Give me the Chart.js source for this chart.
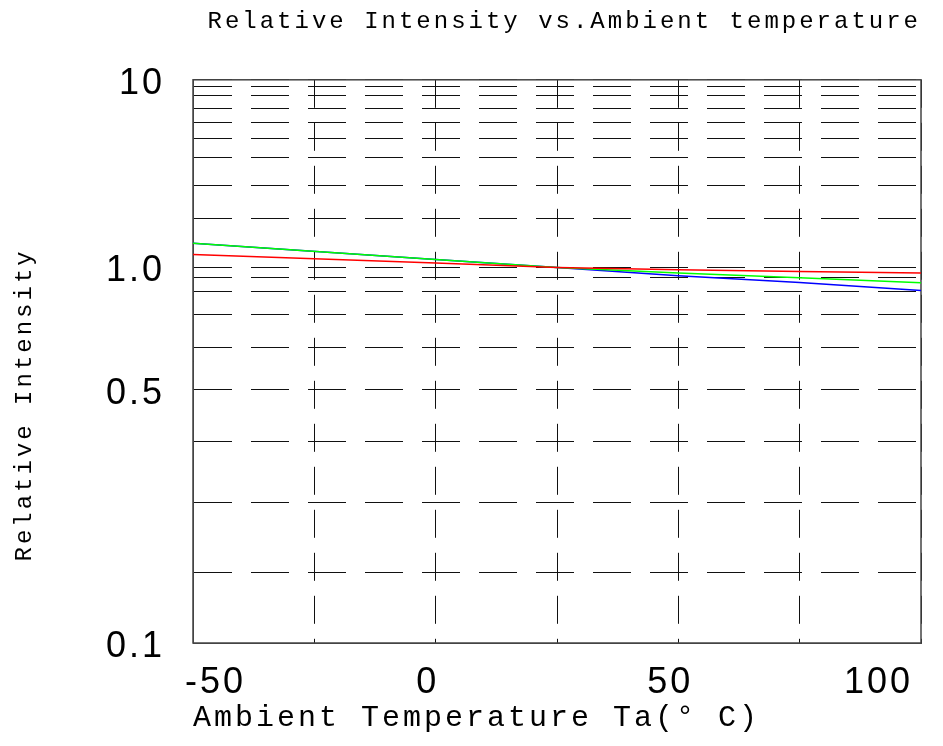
<!DOCTYPE html>
<html>
<head>
<meta charset="utf-8">
<title>Relative Intensity vs.Ambient temperature</title>
<script src="https://cdn.jsdelivr.net/npm/chart.js@4.4.1/dist/chart.umd.min.js"></script>
<style>
  html, body { margin: 0; padding: 0; background: #fff; }
  #wrap { width: 943px; height: 746px; }
</style>
</head>
<body>
<div id="wrap"><canvas id="chartIntensity"></canvas></div>
<script>
const temperatures = [-50, 0, 25, 50, 75, 100]
const redData = [1.26, 1.09, 1.0, 0.976, 0.958, 0.942]
const greenData = [1.49, 1.16, 1.0, 0.942, 0.895, 0.859]
const blueData = [1.49, 1.16, 1.0, 0.914, 0.862, 0.804]

const xTickLabels = [-50, 0, 50, 100]
const yGridValues = [0.1, 0.2, 0.3, 0.4, 0.5, 0.6, 0.7, 0.8, 0.9, 1, 2, 3, 4, 5, 6, 7, 8, 9, 10]
const yLabelValues = [0.1, 0.5, 1, 10]
const yLabelTexts = ['0.1', '0.5', '1.0', '10']

// the original axis is not a true log scale: where each grid line sits (0 = bottom, 1 = top)
const gridSteps = [0, 0.1243, 0.2503, 0.3579, 0.4497, 0.5248, 0.5833, 0.6249, 0.6497, 0.6668,
    0.7545, 0.8124, 0.8628, 0.8958, 0.9249, 0.9498, 0.9716, 0.9881, 1]

function toFraction(v) {
    if (v <= yGridValues[0]) return 0
    for (let i = 0; i < yGridValues.length - 1; i++) {
        const a = yGridValues[i], b = yGridValues[i + 1]
        if (v <= b) return gridSteps[i] + (v - a) / (b - a) * (gridSteps[i + 1] - gridSteps[i])
    }
    return 1
}
function fromFraction(f) {
    for (let i = 0; i < gridSteps.length - 1; i++) {
        if (f <= gridSteps[i + 1]) {
            const t = (f - gridSteps[i]) / (gridSteps[i + 1] - gridSteps[i])
            return yGridValues[i] + t * (yGridValues[i + 1] - yGridValues[i])
        }
    }
    return yGridValues[yGridValues.length - 1]
}

class IntensityScale extends Chart.LinearScale {
    buildTicks() {
        return yGridValues.map(v => ({ value: v }))
    }
    getPixelForValue(value) {
        return this.getPixelForDecimal(toFraction(value))
    }
    getValueForPixel(pixel) {
        return fromFraction(this.getDecimalForPixel(pixel))
    }
}
IntensityScale.id = 'intensity'
IntensityScale.defaults = {}
Chart.register(IntensityScale)

// wide letter spacing like the original
const spacing = {
    id: 'spacing',
    beforeLayout(chart) { chart.ctx.letterSpacing = '3px' },
    beforeDraw(chart) { chart.ctx.letterSpacing = '3px' }
}
// solid box round the plot
const frame = {
    id: 'frame',
    beforeDatasetsDraw(chart) {
        const { ctx, chartArea: a } = chart
        ctx.save()
        ctx.strokeStyle = '#444'
        ctx.lineWidth = 1.5
        ctx.setLineDash([])
        ctx.strokeRect(a.left, a.top, a.right - a.left, a.bottom - a.top)
        ctx.restore()
    }
}

function points(values) {
    return temperatures.map((t, i) => ({ x: t, y: values[i] }))
}
function series(values, color) {
    return {
        data: points(values),
        borderColor: color,
        backgroundColor: color,
        borderWidth: 1.5,
        pointRadius: 0,
        tension: 0,
        fill: false
    }
}

const monoFont = 'Liberation Mono'
const sansFont = 'Liberation Sans'

var ctxIntensity = document.getElementById('chartIntensity').getContext('2d');
var chartIntensity = new Chart(ctxIntensity, {
    type: 'line',
    data: {
        datasets: [
            series(redData, '#ff0000'),
            series(greenData, '#00ff00'),
            series(blueData, '#0000ff')
        ]
    },
    options: {
        responsive: true,
        maintainAspectRatio: false,
        animation: false,
        layout: { padding: { left: 0, right: 22, top: 0, bottom: 0 } },
        plugins: {
            legend: { display: false },
            tooltip: { enabled: false },
            title: {
                display: true,
                text: 'Relative Intensity vs.Ambient temperature',
                align: 'end',
                color: '#000',
                font: { family: monoFont, size: 24, weight: 'normal' },
                padding: { top: 7, bottom: 44 }
            }
        },
        scales: {
            x: {
                type: 'linear',
                min: -50,
                max: 100,
                afterFit: (s) => { s.height = 103 },
                ticks: {
                    stepSize: 25,
                    autoSkip: false,
                    maxRotation: 0,
                    align: 'inner',
                    labelOffset: -8,
                    padding: 18,
                    color: '#000',
                    font: { family: sansFont, size: 36 },
                    callback: (v) => xTickLabels.includes(v) ? String(v) : ''
                },
                grid: { color: '#111', lineWidth: 1, drawTicks: false },
                border: { display: true, color: '#444', dash: [28, 15] },
                title: {
                    display: true,
                    text: 'Ambient Temperature Ta(° C)',
                    align: 'start',
                    color: '#000',
                    font: { family: monoFont, size: 30 },
                    padding: { top: 0, bottom: 10 }
                }
            },
            y: {
                type: 'intensity',
                min: 0.1,
                max: 10,
                afterFit: (s) => { s.width = 193 },
                ticks: {
                    autoSkip: false,
                    padding: 28,
                    labelOffset: 4,
                    color: '#000',
                    font: { family: sansFont, size: 36 },
                    callback: (v) => {
                        const i = yLabelValues.indexOf(v)
                        return i >= 0 ? yLabelTexts[i] : ''
                    }
                },
                grid: { color: '#111', lineWidth: 1, drawTicks: false },
                border: { display: true, color: '#444', dash: [38, 19] },
                title: {
                    display: true,
                    text: 'Relative Intensity     ',
                    color: '#000',
                    font: { family: monoFont, size: 24 },
                    padding: { top: 10, bottom: 0 }
                }
            }
        }
    },
    plugins: [spacing, frame]
});
</script>
</body>
</html>
